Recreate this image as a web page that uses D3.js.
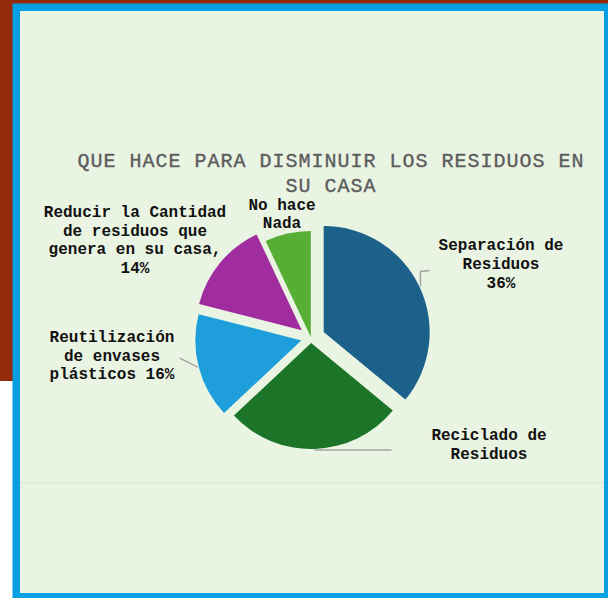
<!DOCTYPE html>
<html>
<meta charset="utf-8">
<style>
  body { margin: 0; background: #ffffff; }
  .title { font-family: "Liberation Mono", "Courier New", monospace; font-size: 20px; fill: #5c5c5c; stroke: #5c5c5c; stroke-width: 0.35px; letter-spacing: 1px; }
  .label { font-family: "Liberation Mono", "Courier New", monospace; font-size: 16px; font-weight: bold; fill: #111; }
  .leader { fill: none; stroke: #a3a3a3; stroke-width: 1.5px; }
</style>
<svg width="608" height="598"></svg>
<script src="https://d3js.org/d3.v7.min.js"></script>
<script>

  // datos del grafico
  var categories = ["Separación de Residuos", "Reciclado de Residuos", "Reutilización de envases plásticos",
    "Reducir la Cantidad de residuos que genera en su casa", "No hace Nada"];
  var values = [36, 27, 16, 14, 7];
  var titleLines = ["QUE HACE PARA DISMINUIR LOS RESIDUOS EN", "SU CASA"];
  var labelLines = [
    ["Separación de", "Residuos", "36%"],
    ["Reciclado de", "Residuos"],
    ["Reutilización", "de envases", "plásticos 16%"],
    ["Reducir la Cantidad", "de residuos que", "genera en su casa,", "14%"],
    ["No hace", "Nada"]
  ];

  // estilos
  var colors = ["#1b6189", "#1c7428", "#1e9fdb", "#a02c9f", "#57ae34"];
  var explode = [14, 5, 10, 12, 1];

  var svg = d3.select("svg");

  // fondo: marco rojo, borde azul, panel claro
  svg.append("rect").attr("x", 0).attr("y", 0).attr("width", 608).attr("height", 5).attr("fill", "#942a0c");
  svg.append("rect").attr("x", 0).attr("y", 0).attr("width", 14).attr("height", 381).attr("fill", "#942a0c");
  svg.append("rect").attr("x", 12.5).attr("y", 3.5).attr("width", 595.5).attr("height", 594.5).attr("fill", "#06a0e2");
  svg.append("rect").attr("x", 20).attr("y", 11).attr("width", 584).attr("height", 582).attr("fill", "#eaf4e3");
  svg.append("line").attr("x1", 20).attr("x2", 604).attr("y1", 483).attr("y2", 483)
    .attr("stroke", "#e1ebd9").attr("stroke-width", 2);

  // titulo
  svg.append("text")
    .attr("class", "title")
    .attr("text-anchor", "middle")
    .selectAll("tspan")
    .data(titleLines)
    .enter().append("tspan")
    .attr("x", 331)
    .attr("y", function (d, i) { return 167 + i * 25; })
    .text(function (d) { return d; });

  // pastel
  var cx = 311, cy = 338, r = 106;
  var pie = d3.pie().sort(null).value(function (d) { return d; });
  var arcs = pie(values);
  var arc = d3.arc().innerRadius(0).outerRadius(r);

  function mid(d) { return (d.startAngle + d.endAngle) / 2; }
  function offset(d, i, dist) {
    var a = mid(d);
    return [cx + dist * Math.sin(a), cy - dist * Math.cos(a)];
  }

  var g = svg.append("g");
  g.selectAll("path")
    .data(arcs)
    .enter().append("path")
    .attr("transform", function (d, i) { var o = offset(d, i, explode[i]); return "translate(" + o[0] + "," + o[1] + ")"; })
    .attr("d", arc)
    .attr("fill", function (d, i) { return colors[i]; });

  // lineas guia (desde el punto medio del arco)
  var leaderSteps = { 0: [[0, -15], [9, -16]], 1: [[77, 0]], 2: [[-8, -4], [-18, -9]] };
  Object.keys(leaderSteps).forEach(function (k) {
    var i = +k, d = arcs[i], a = mid(d);
    var c = offset(d, i, explode[i]);
    var start = [c[0] + (r + 1) * Math.sin(a), c[1] - (r + 1) * Math.cos(a)];
    var pts = [start].concat(leaderSteps[k].map(function (s) { return [start[0] + s[0], start[1] + s[1]]; }));
    svg.append("path").attr("class", "leader").attr("d", d3.line()(pts));
  });

  // etiquetas
  var labelPos = [
    { x: 501, y: 250, lh: 18.8 },
    { x: 489, y: 440, lh: 18.8 },
    { x: 112, y: 342, lh: 18.5 },
    { x: 135, y: 217, lh: 18.7 },
    { x: 282, y: 210, lh: 17.5 }
  ];

  svg.selectAll(".label")
    .data(labelLines)
    .enter().append("text")
    .attr("class", "label")
    .attr("text-anchor", "middle")
    .each(function (lines, i) {
      var p = labelPos[i];
      d3.select(this).selectAll("tspan")
        .data(lines)
        .enter().append("tspan")
        .attr("x", p.x)
        .attr("y", function (d, j) { return p.y + j * p.lh; })
        .text(function (d) { return d; });
    });

</script>
</html>
